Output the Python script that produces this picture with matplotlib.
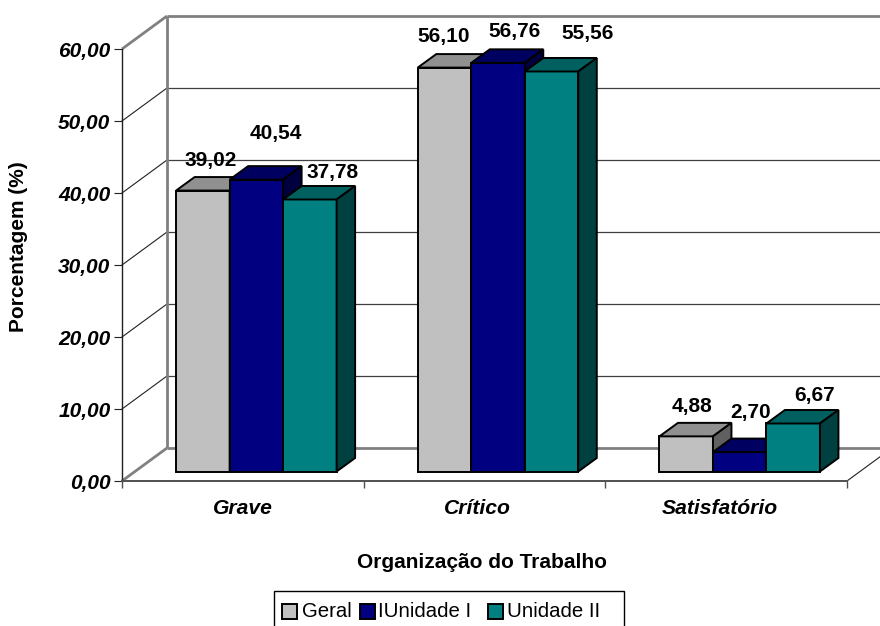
import matplotlib

matplotlib.use("Agg")
import matplotlib.pyplot as plt
from matplotlib.patches import Polygon, Rectangle

categories = ["Grave", "Crítico", "Satisfatório"]
series_names = ["Geral", "IUnidade I", "Unidade II"]
geral = [39.02, 56.10, 4.88]
unidade_1 = [40.54, 56.76, 2.70]
unidade_2 = [37.78, 55.56, 6.67]
y_ticks = [0, 10, 20, 30, 40, 50, 60]

W, H = 880, 626
LEFT, RIGHT, BASE, TOP = 122, 847, 481, 49
X_PX = (RIGHT - LEFT) / 3
Y_PX = (BASE - TOP) / 60


def dx(px):
    return px / X_PX


def dy(px):
    return px / Y_PX


def fmt(v):
    return f"{v:.2f}".replace(".", ",")


plt.rcParams["font.family"] = ["Liberation Sans", "DejaVu Sans"]

fig = plt.figure(figsize=(W / 100, H / 100), dpi=100)
ax = fig.add_axes([LEFT / W, 1 - BASE / H, (RIGHT - LEFT) / W, (BASE - TOP) / H])
ax.set_xlim(0, 3)
ax.set_ylim(0, 60)
ax.patch.set_visible(False)

# walls and grid
wall_x, wall_y = dx(45), dy(33)
far_x = 3 + dx(40)
for v in y_ticks[1:-1]:
    ax.plot([0, wall_x], [v, v + wall_y], color="#202020", lw=0.8, clip_on=False, zorder=1)
    ax.plot([wall_x, far_x], [v + wall_y, v + wall_y], color="#404040", lw=0.9, clip_on=False, zorder=1)
gray = dict(color="#808080", lw=2.0, clip_on=False, zorder=1, solid_capstyle="butt")
ax.plot([wall_x, wall_x], [wall_y, 60 + wall_y], **gray)
ax.plot([wall_x, far_x], [60 + wall_y, 60 + wall_y], **gray)
ax.plot([wall_x, far_x], [wall_y, wall_y], **gray)
ax.plot([0, wall_x], [60, 60 + wall_y], **gray)
ax.plot([0, wall_x], [0, wall_y], **gray)
ax.plot([3, far_x], [0, wall_y * 40 / 45], color="#202020", lw=0.8, clip_on=False, zorder=1)

# bars
all_series = [geral, unidade_1, unidade_2]
face = ["#C0C0C0", "#000080", "#008080"]
top_face = ["#909090", "#000060", "#006060"]
side_face = ["#606060", "#000040", "#004040"]
bar_w = dx(53.5)
lift = dy(9.5)
depth_x, depth_y = dx(18.5), dy(13.5)
edge = dict(edgecolor="black", linewidth=1.4, joinstyle="miter", clip_on=False)

z = 3
for j, vals in enumerate(all_series):
    for i, v in enumerate(vals):
        x0 = i + 0.556 + (j - 1.5) * bar_w
        x1 = x0 + bar_w
        y0, y1 = lift, lift + v
        ax.bar(x0, v, width=bar_w, bottom=lift, align="edge", color=face[j], zorder=z, **edge)
        ax.add_patch(Polygon([(x0, y1), (x1, y1), (x1 + depth_x, y1 + depth_y), (x0 + depth_x, y1 + depth_y)],
                             facecolor=top_face[j], zorder=z, **edge))
        ax.add_patch(Polygon([(x1, y0), (x1, y1), (x1 + depth_x, y1 + depth_y), (x1 + depth_x, y0 + depth_y)],
                             facecolor=side_face[j], zorder=z, **edge))
    z += 1

# data labels, hand placed in the original
label_dx = [[8, 19, 23], [-1, 16, 36], [6, 10.5, 21]]
label_dy = [[30, 46.5, 26.5], [31.5, 31.5, 37.5], [29.5, 39.5, 27.5]]
for j, vals in enumerate(all_series):
    for i, v in enumerate(vals):
        xc = i + 0.556 + (j - 1) * bar_w
        ax.annotate(fmt(v), (xc, lift + v), xytext=(label_dx[i][j] * 0.72, label_dy[i][j] * 0.72),
                    textcoords="offset points", ha="center", va="center",
                    fontsize=15, fontweight="bold", color="black", zorder=10, annotation_clip=False)

# axes
ax.spines["top"].set_visible(False)
ax.spines["right"].set_visible(False)
ax.spines["left"].set_color("#202020")
ax.spines["left"].set_linewidth(1.0)
ax.spines["left"].set_zorder(2)
ax.spines["bottom"].set_color("#505050")
ax.spines["bottom"].set_linewidth(1.4)
ax.spines["bottom"].set_zorder(2)
ax.set_yticks(y_ticks)
ax.set_yticklabels([fmt(v) for v in y_ticks], fontsize=15, fontweight="bold", fontstyle="italic")
ax.tick_params(axis="y", length=5.8, width=0.8, pad=2.5, color="#202020")
ax.set_xticks([0, 1, 2, 3])
ax.set_xticklabels([])
ax.tick_params(axis="x", which="major", length=5, width=1.0, color="#505050")
ax.set_xticks([0.5, 1.47, 2.475], minor=True)
ax.set_xticklabels(categories, minor=True, fontsize=15.2, fontweight="bold", fontstyle="italic")
ax.tick_params(axis="x", which="minor", length=0, pad=13)

fig.text(18 / W, 1 - 246.5 / H, "Porcentagem (%)", rotation=90, ha="center", va="center",
         fontsize=15, fontweight="bold")
fig.text(482 / W, 1 - 562 / H, "Organização do Trabalho", ha="center", va="center",
         fontsize=15, fontweight="bold")

# legend, the original spaces its entries unevenly
fig.add_artist(Rectangle((274 / W, -0.01), 350 / W, 1 - 591 / H + 0.01, transform=fig.transFigure,
                         facecolor="white", edgecolor="black", linewidth=1.0))
patch_x = [282, 360, 488]
text_x = [302, 378, 507]
for c, n, px, tx in zip(face, series_names, patch_x, text_x):
    fig.add_artist(Rectangle((px / W, 1 - 619 / H), 15 / W, 15 / H, transform=fig.transFigure,
                             facecolor=c, edgecolor="black", linewidth=1.4))
    fig.text(tx / W, 1 - 617 / H, n, ha="left", va="baseline", fontsize=14.7)

fig.savefig("out.png", dpi=100)
